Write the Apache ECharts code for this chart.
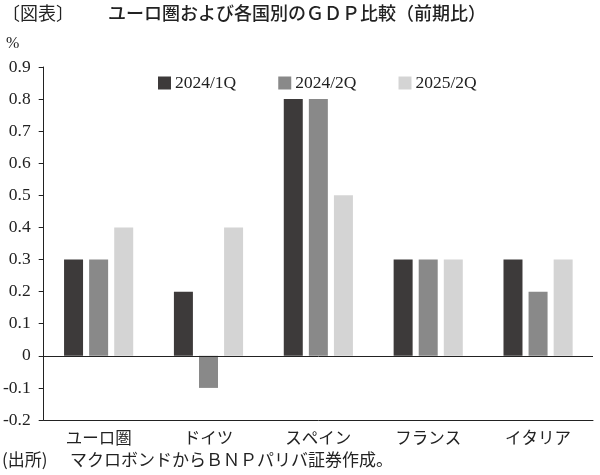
<!DOCTYPE html>
<html><head><meta charset="utf-8">
<script src="https://cdn.jsdelivr.net/npm/echarts@6/dist/echarts.min.js"></script>
<style>html,body{margin:0;padding:0;background:#fff}#c{width:600px;height:475px}</style>
</head><body><div id="c"></div>
<script>
const categories = ['ユーロ圏', 'ドイツ', 'スペイン', 'フランス', 'イタリア'];
const seriesNames = ['2024/1Q', '2024/2Q', '2025/2Q'];
const q1_2024 = [0.3, 0.2, 0.8, 0.3, 0.3];
const q2_2024 = [0.3, -0.1, 0.8, 0.3, 0.2];
const q2_2025 = [0.4, 0.4, 0.5, 0.3, 0.3];
const colors = ['#3d3a3a', '#898989', '#d4d4d4'];

const serif = 'Liberation Serif';
const jp = 'Noto Sans CJK JP';
const chart = echarts.init(document.getElementById('c'));
const data = [q1_2024, q2_2024, q2_2025];
chart.setOption({
  animation: false,
  backgroundColor: '#fff',
  graphic: [
    {type: 'text', left: 2, top: 4, style: {text: '〔図表〕', fontFamily: jp, fontSize: 18, fill: '#222'}},
    {type: 'text', left: 108, top: 4, style: {text: 'ユーロ圏および各国別のＧＤＰ比較（前期比）', fontFamily: jp, fontSize: 18, fontWeight: 500, fill: '#222'}},
    {type: 'text', left: 6, top: 36, style: {text: '%', fontFamily: serif, fontSize: 16, fill: '#222'}},
    {type: 'text', left: 2, top: 451, style: {text: '(出所)', fontFamily: jp, fontSize: 17, fill: '#222'}},
    {type: 'text', left: 70, top: 451, style: {text: 'マクロボンドからＢＮＰパリバ証券作成。', fontFamily: jp, fontSize: 17, fill: '#222'}}
  ],
  legend: {
    top: 69, left: 153, itemGap: 42, itemWidth: 13, itemHeight: 13,
    icon: 'rect',
    textStyle: {fontFamily: serif, fontSize: 17.5, color: '#222', padding: [0, 0, 0, -1]},
    data: seriesNames
  },
  grid: {left: 42, right: 7, top: 67, bottom: 55, containLabel: false},
  xAxis: {
    type: 'category', data: categories,
    axisLine: {onZero: false, lineStyle: {color: '#222', width: 1}},
    axisTick: {show: false},
    axisLabel: {fontFamily: jp, fontSize: 16.5, color: '#222', margin: 9}
  },
  yAxis: {
    type: 'value', min: -0.2, max: 0.9, interval: 0.1,
    axisLine: {show: true, lineStyle: {color: '#222', width: 1}},
    axisTick: {show: true, inside: false, length: 5, lineStyle: {color: '#222'}},
    splitLine: {show: false},
    axisLabel: {fontFamily: serif, fontSize: 17.5, color: '#222', margin: 13,
      formatter: v => { const r = Math.round(v * 10) / 10; return r === 0 ? '0' : r.toFixed(1); }}
  },
  series: seriesNames.map((n, i) => ({
    name: n, type: 'bar', data: data[i], barWidth: 19, barGap: '32%',
    itemStyle: {color: colors[i]},
    markLine: i === 0 ? {silent: true, symbol: 'none', label: {show: false},
      lineStyle: {color: '#222', width: 1, type: 'solid'}, data: [{yAxis: 0}]} : undefined
  }))
});
</script></body></html>
